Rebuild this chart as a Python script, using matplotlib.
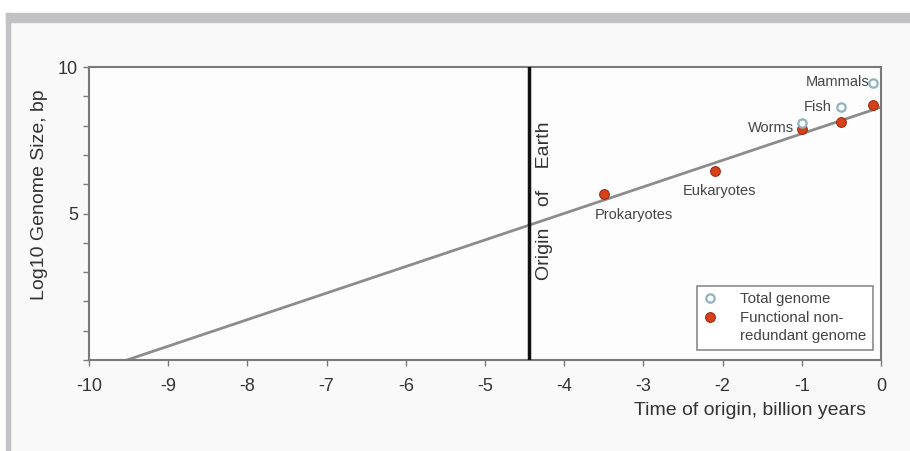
import matplotlib
matplotlib.use('Agg')
import matplotlib.pyplot as plt
from matplotlib.lines import Line2D
from matplotlib.patches import Rectangle

# data
groups = ['Prokaryotes', 'Eukaryotes', 'Worms', 'Fish', 'Mammals']
origin_time = [-3.5, -2.1, -1.0, -0.5, -0.1]
functional_size = [5.67, 6.45, 7.88, 8.12, 8.70]
total_time = [-1.0, -0.5, -0.1]
total_size = [8.09, 8.63, 9.45]
fit_x = [-9.52, 0.0]
fit_y = [0.0, 8.63]
earth_origin = -4.45

# label offsets (pixels) and alignment, per group
label_off = {'Prokaryotes': (30, -21, 'center'), 'Eukaryotes': (5, -20, 'center'),
             'Worms': (-8, 1, 'right'), 'Fish': (-10, 0, 'right'),
             'Mammals': (-4, 1, 'right')}
label_y = {'Prokaryotes': 5.67, 'Eukaryotes': 6.45, 'Worms': 7.88, 'Fish': 8.63, 'Mammals': 9.45}

plt.rcParams['font.family'] = ['Liberation Sans', 'DejaVu Sans']
plt.rcParams['axes.unicode_minus'] = False
txt = '#333333'
red = '#d8401c'
blue = '#8db4bd'

fig = plt.figure(figsize=(9.1, 4.51), dpi=100, facecolor='#f9f9f9')
# picture frame
fig.patches.append(Rectangle((0, 1 - 13/451), 1, 13/451, transform=fig.transFigure, color='white', zorder=0))
fig.patches.append(Rectangle((0, 0), 6/910, 1, transform=fig.transFigure, color='white', zorder=0))
fig.patches.append(Rectangle((6/910, 1 - 22/451), 1, 9/451, transform=fig.transFigure, color='#c2c2c6', zorder=1))
fig.patches.append(Rectangle((6/910, 0), 4/910, 1 - 13/451, transform=fig.transFigure, color='#c2c2c6', zorder=1))

ax = fig.add_axes([89/910, 1 - 360/451, 792/910, 293/451])
ax.set_facecolor('#fdfdfd')
ax.set_xlim(-10, 0)
ax.set_ylim(0, 10)

ax.plot(fit_x, fit_y, color='#8c8c8c', lw=2, zorder=2)
ax.axvline(earth_origin, color='#111111', lw=2.5, zorder=3)
ax.plot(origin_time, functional_size, 'o', ms=7, mfc=red, mec='#9a3010', mew=0.8, zorder=4, clip_on=False)
ax.plot(total_time, total_size, 'o', ms=6, mfc='white', mec=blue, mew=1.6, zorder=4, clip_on=False)

for g, t in zip(groups, origin_time):
    dx, dy, ha = label_off[g]
    ax.annotate(g, (t, label_y[g]), xytext=(dx, dy), textcoords='offset pixels',
                ha=ha, va='center', fontsize=10.5, color='#444444')

ax.text(earth_origin + 0.2, 5.45, 'Origin    of    Earth', rotation=90, ha='center', va='center',
        fontsize=14, color='#333333')

for s in ax.spines.values():
    s.set_color('#7a7a7a')
    s.set_linewidth(1.5)

ax.set_xticks(range(-10, 1))
ax.set_yticks(range(0, 11))
ax.set_yticklabels(['' if v not in (5, 10) else str(v) for v in range(0, 11)])
ax.tick_params(axis='both', direction='out', length=4, width=1, color='#7a7a7a',
               labelcolor=txt, labelsize=13)
ax.tick_params(axis='x', pad=9)
ax.tick_params(axis='y', pad=4)

ax.set_ylabel('Log10 Genome Size, bp', fontsize=14, color=txt)
ax.yaxis.set_label_coords(-0.052, 0.563)
ax.set_xlabel('Time of origin, billion years', fontsize=14, color=txt, ha='right', va='center')
ax.xaxis.set_label_coords(0.981, -0.171)

handles = [Line2D([], [], ls='', marker='o', ms=6, mfc='white', mec=blue, mew=1.6),
           Line2D([], [], ls='', marker='o', ms=7, mfc=red, mec='#9a3010', mew=0.8),
           Line2D([], [], ls='', marker='')]
leg = ax.legend(handles, ['Total genome', 'Functional non-', 'redundant genome'],
                loc='lower right', bbox_to_anchor=(0.99, 0.034), borderaxespad=0,
                fontsize=10.8, frameon=True, fancybox=False, edgecolor='#8a8a8a',
                facecolor='white', framealpha=1, handlelength=0.8, handletextpad=1.6,
                labelspacing=0.3, borderpad=0.45)
leg.get_frame().set_linewidth(1.2)
for t in leg.get_texts():
    t.set_color('#444444')

fig.savefig('out.png', dpi=100, facecolor=fig.get_facecolor())
